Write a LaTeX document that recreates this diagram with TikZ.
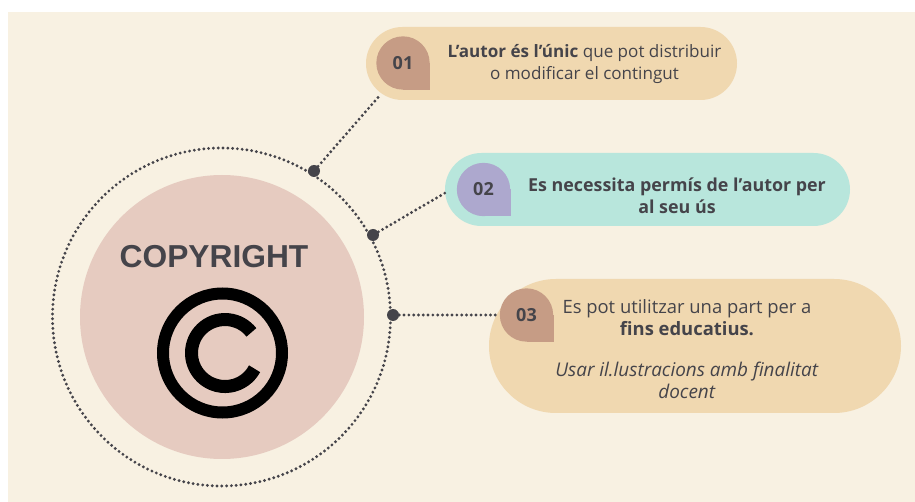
\documentclass[tikz,border=0pt]{standalone}
\usepackage{fontspec}
\setmainfont{Open Sans}
\newfontfamily\headfont{Liberation Sans}
\usetikzlibrary{shapes.misc}
\definecolor{paper}{HTML}{F8F1E2}
\definecolor{sand}{HTML}{F0D8B0}
\definecolor{mint}{HTML}{B8E6DC}
\definecolor{clay}{HTML}{C69C85}
\definecolor{lilac}{HTML}{ADA8CE}
\definecolor{blush}{HTML}{E6CBC0}
\definecolor{ink}{HTML}{45444A}
\tikzset{
  x=0.75pt, y=-0.75pt,
  pill/.style={rounded rectangle, fill=#1, draw=none, inner sep=0pt},
  badge/.style={circle, fill=#1, draw=none, minimum size=40pt, inner sep=0pt, text=ink, font=\fontsize{13.5}{15}\selectfont\bfseries},
  dotline/.style={draw=ink, line width=2.4pt, line cap=round, dash pattern=on 0pt off 3.6pt},
  anchordot/.style={circle, fill=ink, draw=none, minimum size=9pt, inner sep=0pt},
  bodytext/.style={text=ink, align=center, font=\fontsize{#1}{16.5}\selectfont},
}
\begin{document}
\begin{tikzpicture}
\useasboundingbox (0,0) rectangle (915,502);
\fill[white] (0,0) rectangle (915,502);
\fill[paper] (8,12) rectangle (915,502);
% pills
\node[pill=sand, minimum width=278.25pt, minimum height=54.75pt] (p1) at (551.5,63.5) {};
\node[pill=mint, minimum width=303.75pt, minimum height=54.75pt] (p2) at (647.5,189.5) {};
\node[pill=sand, minimum width=309pt, minimum height=100.5pt] (p3) at (695,346) {};
% big circles
\node[circle, fill=blush, minimum size=213pt, inner sep=0pt] (disc) at (222,317) {};
\node[circle, dotline, minimum size=253.5pt, inner sep=0pt] (ring) at (221.5,317) {};
% badges
\fill[clay] (403,63) rectangle (430,90);
\node[badge=clay] (b1) at (403,63) {01};
\fill[lilac] (483.5,189.5) rectangle (510.5,216.5);
\node[badge=lilac] (b2) at (483.5,189.5) {02};
\fill[clay] (526.5,315) rectangle (553.5,342);
\node[badge=clay] (b3) at (526.5,315) {03};
% anchors
\node[anchordot] (d1) at (314,171) {};
\node[anchordot] (d2) at (373,235) {};
\node[anchordot] (d3) at (393,315) {};
\coordinate (c1) at (381,94);
\coordinate (c2) at (445,193);
\draw[dotline] (d1) -- (c1);
\draw[dotline] (d2) -- (c2);
\draw[dotline] (d3) -- (b3);
% texts
\node[bodytext=12.8] (t1) at (584.5,64) {\textbf{L'autor és l'únic} que pot distribuir\\o modificar el contingut};
\node[bodytext=13.4] (t2) at (677,196) {\textbf{Es necessita permís de l'autor per}\\\textbf{al seu ús}};
\node[bodytext=13.8] (t3) at (687,318) {Es pot utilitzar una part per a\\\textbf{fins educatius.}};
\node[bodytext=14.2] (t4) at (687,380.5) {\textit{Usar il.lustracions amb finalitat}\\\textit{docent}};
\node[text=ink, font=\headfont\fontsize{23.8}{26}\selectfont\bfseries] (title) at (214,257) {COPYRIGHT};
% copyright sign
\node[circle, draw=black, line width=9pt, minimum size=89.25pt, inner sep=0pt] (sign) at (222.5,353) {};
\draw[black, line width=9.75pt] (251.4,332.4) arc[start angle=-38, end angle=-332, radius=33.5];
\end{tikzpicture}
\end{document}
